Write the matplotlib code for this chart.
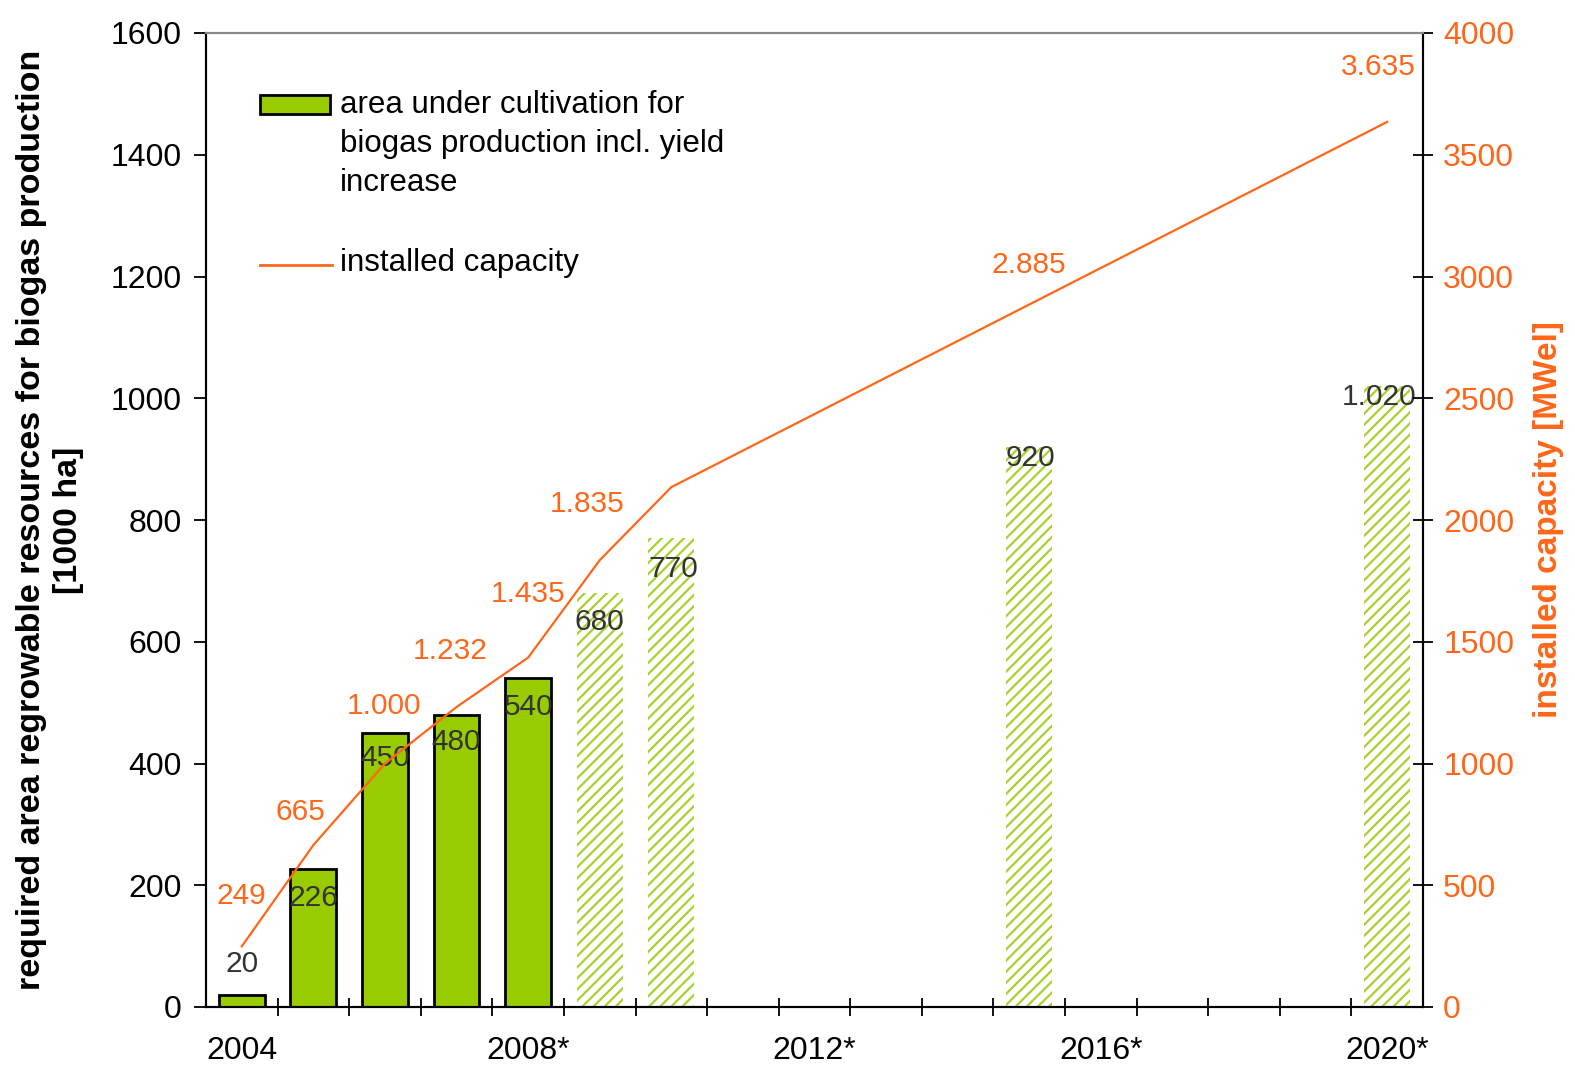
import matplotlib
matplotlib.use("Agg")
import matplotlib.pyplot as plt
from matplotlib.patches import Rectangle
from matplotlib.lines import Line2D

plt.rcParams['font.family'] = ['Liberation Sans', 'DejaVu Sans']
plt.rcParams['hatch.linewidth'] = 1.6

# categories on the x axis (one slot per year)
years = list(range(2004, 2021))
tick_years = [2004, 2008, 2012, 2016, 2020]
tick_labels = ['2004', '2008*', '2012*', '2016*', '2020*']

# area under cultivation [1000 ha]
bar_years = [2004, 2005, 2006, 2007, 2008, 2009, 2010, 2015, 2020]
area = [20, 226, 450, 480, 540, 680, 770, 920, 1020]
forecast = [False, False, False, False, False, True, True, True, True]

# installed capacity [MWel]
cap_years = [2004, 2005, 2006, 2007, 2008, 2009, 2010, 2015, 2020]
capacity = [249, 665, 1000, 1232, 1435, 1835, 2135, 2885, 3635]
cap_labeled = [True, True, True, True, True, True, False, True, True]

# label offsets in pixels (dx, dy)
area_offsets = [(0, 31), (0, -29), (0, -25), (0, -27), (0, -29),
                (0, -29), (2, -31), (1, -11), (-8, -11)]
cap_offsets = [(0, 50), (-13, 33), (-1, 58), (-6, 56), (0, 64),
               (-13, 56), (0, 0), (0, 40), (-9, 55)]

green = '#99CC00'
orange = '#FF6619'


def fmt(v):
    return f"{v:,}".replace(',', '.')


fig = plt.figure(figsize=(15.75, 10.74), dpi=100)
ax = fig.add_axes([206 / 1575, 1 - 1007 / 1074, 1217 / 1575, 974 / 1074])
ax2 = ax.twinx()

xpos = {y: i for i, y in enumerate(years)}

# bars
for y, v, f in zip(bar_years, area, forecast):
    if f:
        ax.bar(xpos[y], v, width=0.64, facecolor='white', edgecolor='#A6D22E',
               linewidth=0, hatch='///', zorder=2)
    else:
        ax.bar(xpos[y], v, width=0.64, facecolor=green, edgecolor='black',
               linewidth=2, zorder=2)

for y, v, (dx, dy) in zip(bar_years, area, area_offsets):
    ax.annotate(fmt(v), (xpos[y], v), xytext=(dx, dy), textcoords='offset pixels',
                ha='center', va='center', fontsize=21.5, color='#333333', zorder=5)

# capacity line
cx = [xpos[y] for y in cap_years]
ax2.plot(cx, capacity, color=orange, linewidth=1.6, zorder=3)
for x, v, show, (dx, dy) in zip(cx, capacity, cap_labeled, cap_offsets):
    if show:
        ax2.annotate(fmt(v), (x, v), xytext=(dx, dy), textcoords='offset pixels',
                     ha='center', va='center', fontsize=21.5, color=orange)

# axes limits and ticks
ax.set_xlim(-0.5, len(years) - 0.5)
ax.set_ylim(0, 1600)
ax2.set_ylim(0, 4000)
ax.set_yticks(range(0, 1601, 200))
ax2.set_yticks(range(0, 4001, 500))

ax.set_xticks([i + 0.5 for i in range(len(years) - 1)])
ax.set_xticklabels([])
ax.set_xticks([xpos[y] for y in tick_years], minor=True)
ax.set_xticklabels(tick_labels, minor=True)

ax.tick_params(axis='x', which='major', direction='inout', length=13, width=1.3)
ax.tick_params(axis='x', which='minor', length=0, pad=21, labelsize=23)
ax.tick_params(axis='y', direction='out', length=8.6, width=1.3, pad=9, labelsize=23)
ax2.tick_params(axis='y', direction='inout', length=15, width=1.3, pad=7,
                labelsize=23, labelcolor=orange)

for a in (ax, ax2):
    a.spines['top'].set_color('#888888')
    a.spines['top'].set_linewidth(1.5)
    for s in ('left', 'right', 'bottom'):
        a.spines[s].set_linewidth(1.5)
        a.spines[s].set_color('black')

ax.set_ylabel('required area regrowable resources for biogas production\n[1000 ha]',
              fontsize=24.5, fontweight='bold', linespacing=1.25)
ax.yaxis.set_label_coords(-0.100, 0.5)
ax2.set_ylabel('installed capacity [MWel]', fontsize=24, fontweight='bold', color=orange)
ax2.yaxis.set_label_coords(1.090, 0.5)

# legend, drawn by hand to match the layout
ax2.add_patch(Rectangle((0.0444, 0.9168), 0.0575, 0.0195, transform=ax.transAxes,
                        facecolor=green, edgecolor='black', linewidth=2,
                        clip_on=False, zorder=6))
ax2.text(0.110, 0.9410, 'area under cultivation for\nbiogas production incl. yield\nincrease',
         transform=ax.transAxes, ha='left', va='top', fontsize=22.5, linespacing=1.38)
ax2.add_line(Line2D([0.0444, 0.1035], [0.7618, 0.7618], transform=ax.transAxes,
                    color=orange, linewidth=2))
ax2.text(0.110, 0.7640, 'installed capacity', transform=ax.transAxes,
         ha='left', va='center', fontsize=22.5)

fig.savefig('out.png', dpi=100)
